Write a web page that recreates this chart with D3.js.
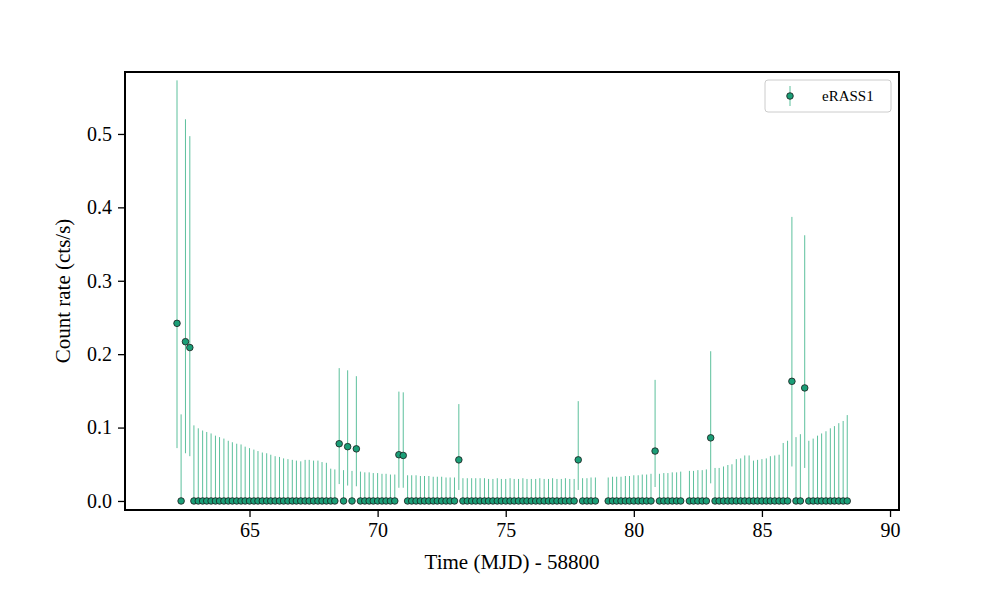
<!DOCTYPE html>
<html><head><meta charset="utf-8">
<script src="https://cdn.jsdelivr.net/npm/d3@7"></script>
<style>body{margin:0;background:#fff}svg{font-family:"Liberation Serif","DejaVu Serif",serif}</style>
</head><body><svg id="c" width="1000" height="600"></svg>
<script>
const times = [62.17,62.33,62.50,62.67,
62.83,63.00,63.17,63.33,63.50,63.67,63.83,64.00,64.17,64.33,64.50,64.67,64.83,65.00,65.17,65.33,65.50,65.67,65.83,66.00,66.17,66.33,66.50,66.67,66.83,67.00,67.17,67.33,67.50,67.67,67.83,68.00,68.17,68.33,
68.50,68.67,68.83,69.00,69.17,
69.33,69.50,69.67,69.83,70.00,70.17,70.33,70.50,70.67,
70.83,71.00,
71.17,71.33,71.50,71.67,71.83,72.00,72.17,72.33,72.50,72.67,72.83,73.00,
73.17,
73.33,73.50,73.67,73.83,74.00,74.17,74.33,74.50,74.67,74.83,75.00,75.17,75.33,75.50,75.67,75.83,76.00,76.17,76.33,76.50,76.67,76.83,77.00,77.17,77.33,77.50,77.67,
77.83,
78.00,78.17,78.33,78.50,
79.00,79.17,79.33,79.50,79.67,79.83,80.00,80.17,80.33,80.50,80.67,
80.83,
81.00,81.17,81.33,81.50,81.67,81.83,
82.17,82.33,82.50,82.67,82.83,
83.00,
83.17,83.33,83.50,83.67,83.83,84.00,84.17,84.33,84.50,84.67,84.83,85.00,85.17,85.33,85.50,85.67,85.83,86.00,
86.17,86.33,86.50,86.67,
86.83,87.00,87.17,87.33,87.50,87.67,87.83,88.00,88.17,88.33];
const rates = [0.242,0,0.217,0.209,
0,0,0,0,0,0,0,0,0,0,0,0,0,0,0,0,0,0,0,0,0,0,0,0,0,0,0,0,0,0,0,0,0,0,
0.078,0,0.074,0,0.071,
0,0,0,0,0,0,0,0,0,
0.063,0.062,
0,0,0,0,0,0,0,0,0,0,0,0,
0.056,
0,0,0,0,0,0,0,0,0,0,0,0,0,0,0,0,0,0,0,0,0,0,0,0,0,0,0,
0.056,
0,0,0,0,
0,0,0,0,0,0,0,0,0,0,0,
0.068,
0,0,0,0,0,0,
0,0,0,0,0,
0.086,
0,0,0,0,0,0,0,0,0,0,0,0,0,0,0,0,0,0,
0.163,0,0,0.154,
0,0,0,0,0,0,0,0,0,0];
const lows = [0.072,0,0.065,0.061,
0,0,0,0,0,0,0,0,0,0,0,0,0,0,0,0,0,0,0,0,0,0,0,0,0,0,0,0,0,0,0,0,0,0,
0.023,0,0.021,0,0.020,
0,0,0,0,0,0,0,0,0,
0.018,0.018,
0,0,0,0,0,0,0,0,0,0,0,0,
0.015,
0,0,0,0,0,0,0,0,0,0,0,0,0,0,0,0,0,0,0,0,0,0,0,0,0,0,0,
0.015,
0,0,0,0,
0,0,0,0,0,0,0,0,0,0,0,
0.019,
0,0,0,0,0,0,
0,0,0,0,0,
0.024,
0,0,0,0,0,0,0,0,0,0,0,0,0,0,0,0,0,0,
0.047,0,0,0.045,
0,0,0,0,0,0,0,0,0,0];
const highs = [0.573,0.118,0.520,0.497,
0.103,0.099,0.096,0.094,0.092,0.089,0.087,0.085,0.082,0.080,0.078,0.077,0.074,0.072,0.070,0.068,0.066,0.065,0.063,0.061,0.060,0.058,0.057,0.056,0.055,0.054,0.056,0.056,0.055,0.055,0.053,0.052,0.044,0.043,
0.181,0.042,0.178,0.041,0.170,
0.040,0.039,0.039,0.038,0.038,0.037,0.037,0.036,0.036,
0.149,0.148,
0.035,0.035,0.035,0.034,0.034,0.034,0.033,0.033,0.033,0.032,0.032,0.032,
0.132,
0.031,0.031,0.031,0.031,0.031,0.031,0.030,0.030,0.031,0.030,0.030,0.031,0.030,0.030,0.031,0.030,0.030,0.030,0.031,0.030,0.030,0.031,0.030,0.030,0.031,0.030,0.030,
0.136,
0.031,0.031,0.032,0.032,
0.032,0.033,0.033,0.033,0.034,0.034,0.035,0.035,0.036,0.036,0.037,
0.165,
0.037,0.038,0.038,0.039,0.039,0.040,
0.041,0.041,0.042,0.042,0.043,
0.204,
0.045,0.045,0.047,0.049,0.050,0.057,0.058,0.062,0.062,0.055,0.056,0.057,0.058,0.061,0.062,0.063,0.079,0.082,
0.387,0.087,0.091,0.362,
0.082,0.085,0.089,0.092,0.095,0.099,0.102,0.106,0.109,0.117];
const xTicks = [65,70,75,80,85,90];
const yTicks = [0.0,0.1,0.2,0.3,0.4,0.5];
const seriesName = "eRASS1";

const svg = d3.select("#c");
const L=125,R=899,T=72,B=510;
const x = d3.scaleLinear().domain([60.14,90.35]).range([L,R]);
const y = d3.scaleLinear().domain([-0.0123,0.5844]).range([B,T]);
const data = times.map((t,i)=>({t,r:rates[i],lo:lows[i],hi:highs[i]}));
const ebColor="#5cc09c", fill="#1b9e77";
const g = svg.append("g");
g.selectAll("line.eb").data(data).join("line").attr("class","eb")
  .attr("x1",d=>x(d.t)).attr("x2",d=>x(d.t)).attr("y1",d=>y(d.lo)).attr("y2",d=>y(d.hi))
  .attr("stroke",ebColor).attr("stroke-width",1);
g.selectAll("circle").data(data).join("circle")
  .attr("cx",d=>x(d.t)).attr("cy",d=>y(d.r)).attr("r",3.3)
  .attr("fill",fill).attr("stroke","#1a1a1a").attr("stroke-width",0.8);

const xa = svg.append("g").attr("transform",`translate(0,${B})`)
  .call(d3.axisBottom(x).tickValues(xTicks).tickSize(7).tickPadding(6).tickFormat(d3.format("d")));
const ya = svg.append("g").attr("transform",`translate(${L},0)`)
  .call(d3.axisLeft(y).tickValues(yTicks).tickSize(7).tickPadding(6).tickFormat(d3.format(".1f")));
[xa,ya].forEach(a=>{a.select(".domain").remove();
  a.selectAll("text").attr("font-size",20).attr("font-family","Liberation Serif").attr("fill","#000");
  a.selectAll("line").attr("stroke","#000").attr("stroke-width",1.3);});
svg.append("rect").attr("x",L).attr("y",T).attr("width",R-L).attr("height",B-T)
  .attr("fill","none").attr("stroke","#000").attr("stroke-width",2);
svg.append("text").attr("x",(L+R)/2).attr("y",569).attr("text-anchor","middle")
  .attr("font-size",21).text("Time (MJD) - 58800");
svg.append("text").attr("transform",`translate(70,${(T+B)/2}) rotate(-90)`).attr("text-anchor","middle")
  .attr("font-size",21).text("Count rate (cts/s)");

const lg = svg.append("g");
lg.append("rect").attr("x",765).attr("y",80).attr("width",126).attr("height",32).attr("rx",3)
  .attr("fill","#fff").attr("stroke","#ccc").attr("stroke-width",1);
lg.append("line").attr("x1",790).attr("x2",790).attr("y1",86).attr("y2",106).attr("stroke",ebColor);
lg.append("circle").attr("cx",790).attr("cy",96).attr("r",3.3).attr("fill",fill).attr("stroke","#1a1a1a").attr("stroke-width",0.8);
lg.append("text").attr("x",822).attr("y",101).attr("font-size",15).text(seriesName);
</script></body></html>
